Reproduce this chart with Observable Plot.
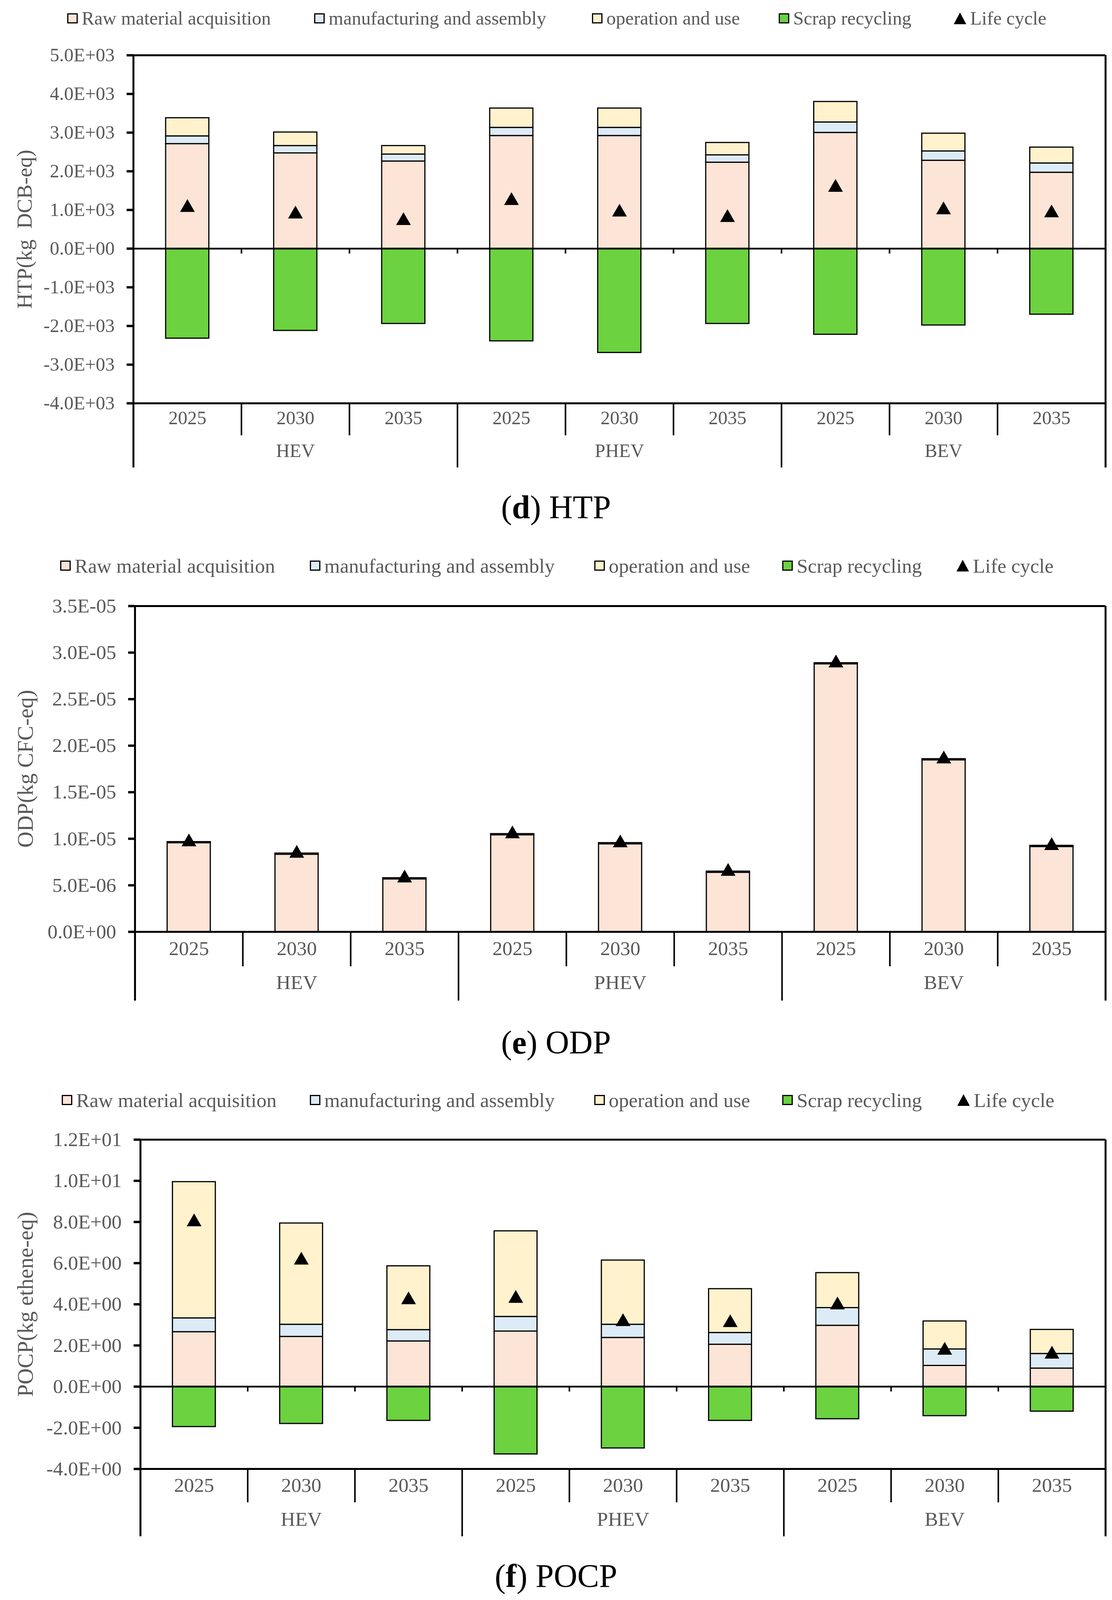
<!DOCTYPE html>
<html>
<head>
<meta charset="utf-8">
<script src="https://cdn.jsdelivr.net/npm/d3@7"></script>
<script src="https://cdn.jsdelivr.net/npm/@observablehq/plot@0.6"></script>
<style>
  html, body { margin: 0; padding: 0; background: #fff; }
  #page { position: relative; width: 2846px; height: 4096px; overflow: hidden; font-family: "Liberation Serif", "Times New Roman", serif; }
  .svgwrap { position: absolute; left: 0; }
  .item { position: absolute; display: flex; align-items: center; white-space: nowrap; color: #595959; }
  .sw { box-sizing: border-box; border: 3px solid #000; margin-right: 10px; }
  .ytitle { position: absolute; white-space: pre; color: #595959; transform: translate(-50%, -50%) rotate(-90deg); }
  .caption { position: absolute; left: 0; width: 2846px; text-align: center; color: #000; }
</style>
</head>
<body>
<div id="page"></div>
<script>
// categories
const groups = ["HEV", "PHEV", "BEV"];
const years = ["2025", "2030", "2035"];
const stages = ["Raw material acquisition", "manufacturing and assembly", "operation and use", "Scrap recycling"];
const stageColors = ["#FCE4D6", "#DDEBF7", "#FFF2CC", "#6CD23F"];
const lifeLabel = "Life cycle";

// (d) HTP, kg DCB-eq
const htpRaw   = [2710, 2470, 2260, 2920, 2920, 2230, 3000, 2280, 1970];
const htpManuf = [200, 190, 180, 210, 210, 190, 270, 240, 240];
const htpOper  = [470, 350, 220, 500, 500, 320, 530, 460, 410];
const htpScrap = [-2320, -2120, -1940, -2390, -2690, -1940, -2220, -1980, -1700];
const htpTicks = [-4000, -3000, -2000, -1000, 0, 1000, 2000, 3000, 4000, 5000];

// (e) ODP, kg CFC-eq
const odpRaw   = [9.55e-6, 8.32e-6, 5.67e-6, 1.041e-5, 9.44e-6, 6.38e-6, 2.877e-5, 1.846e-5, 9.15e-6];
const odpManuf = [8e-8, 8e-8, 8e-8, 8e-8, 8e-8, 8e-8, 8e-8, 8e-8, 8e-8];
const odpOper  = [4e-8, 4e-8, 4e-8, 4e-8, 4e-8, 4e-8, 4e-8, 4e-8, 4e-8];
const odpScrap = [-2e-8, -2e-8, -2e-8, -2e-8, -2e-8, -2e-8, -2e-8, -2e-8, -2e-8];
const odpTicks = [0, 5e-6, 1e-5, 1.5e-5, 2e-5, 2.5e-5, 3e-5, 3.5e-5];

// (f) POCP, kg ethene-eq
const pocpRaw   = [2.66, 2.43, 2.21, 2.69, 2.38, 2.05, 2.97, 1.02, 0.89];
const pocpManuf = [0.67, 0.59, 0.55, 0.71, 0.64, 0.57, 0.86, 0.80, 0.71];
const pocpOper  = [6.62, 4.92, 3.10, 4.16, 3.12, 2.13, 1.70, 1.36, 1.17];
const pocpScrap = [-1.95, -1.80, -1.65, -3.28, -2.99, -1.65, -1.57, -1.42, -1.20];
const pocpTicks = [-4, -2, 0, 2, 4, 6, 8, 10, 12];

// the browser only photographs 4096px of height, so the reference layout
// (4572px tall) is squeezed vertically; fonts are shrunk a little
const SY = 4096 / 4572;
const SF = 0.95;

const panels = [
  {raw: htpRaw, manuf: htpManuf, oper: htpOper, scrap: htpScrap, ticks: htpTicks,
   title: "HTP(kg  DCB-eq)", letter: "d", name: "HTP",
   fs: 51, titleFs: 58, legendY: 52, legendX: [172, 804, 1515, 1993, 2441],
   svgTop: 100, height: 1300, left: 341, marginTop: 57, marginBottom: 248,
   yearDy: 60, groupDy: 154, yearLen: 92, groupLen: 184, titleX: 62, captionY: 1451},
  {raw: odpRaw, manuf: odpManuf, oper: odpOper, scrap: odpScrap, ticks: odpTicks,
   title: "ODP(kg CFC-eq)", letter: "e", name: "ODP",
   fs: 54, titleFs: 60, legendY: 1616, legendX: [154, 793, 1521, 2002, 2448],
   svgTop: 1680, height: 1240, left: 345, marginTop: 51, marginBottom: 258,
   yearDy: 66, groupDy: 163, yearLen: 99, groupLen: 197, titleX: 64, captionY: 2980},
  {raw: pocpRaw, manuf: pocpManuf, oper: pocpOper, scrap: pocpScrap, ticks: pocpTicks,
   title: "POCP(kg ethene-eq)", letter: "f", name: "POCP",
   fs: 54, titleFs: 60, legendY: 3143, legendX: [158, 793, 1521, 2002, 2450],
   svgTop: 3200, height: 1240, left: 359, marginTop: 56, marginBottom: 243,
   yearDy: 65, groupDy: 162, yearLen: 96, groupLen: 193, titleX: 64, captionY: 4505}
];

function fmtE(v) {
  const [m, e] = v.toExponential(1).split("e");
  return m + "E" + e[0] + e.slice(1).padStart(2, "0");
}

const page = document.getElementById("page");
const W = 2846, rightEdge = 2829;
const sy = v => Math.round(v * SY);

function addLegend(p) {
  const fs = p.fs * SF;
  const lh = Math.round(fs * 1.12);
  const cy = sy(p.legendY);
  stages.forEach((s, k) => {
    const it = document.createElement("div");
    it.className = "item";
    it.style.left = p.legendX[k] + "px";
    it.style.top = (cy - lh / 2) + "px";
    it.style.fontSize = fs + "px";
    it.style.lineHeight = lh + "px";
    const sw = document.createElement("div");
    sw.className = "sw";
    sw.style.width = "27px";
    sw.style.height = "26px";
    sw.style.background = stageColors[k];
    it.appendChild(sw);
    it.appendChild(document.createTextNode(s));
    page.appendChild(it);
  });
  const it = document.createElement("div");
  it.className = "item";
  it.style.left = p.legendX[4] + "px";
  it.style.top = (cy - lh / 2) + "px";
  it.style.fontSize = fs + "px";
  it.style.lineHeight = lh + "px";
  it.innerHTML = '<svg width="32" height="30" style="margin-right:10px"><polygon points="16,0 32,30 0,30" fill="#000"/></svg>';
  it.appendChild(document.createTextNode(lifeLabel));
  page.appendChild(it);
}

function addPanel(p) {
  addLegend(p);
  const fs = p.fs * SF;
  const n = p.raw.length;
  const rows = [];
  const lc = [];
  for (let i = 0; i < n; i++) {
    const vals = [p.raw[i], p.manuf[i], p.oper[i], p.scrap[i]];
    vals.forEach((v, k) => rows.push({i, stage: stages[k], value: v}));
    lc.push({i, value: d3.sum(vals)});
  }
  const cats = d3.cross(groups, years).map(([g, y], i) => ({i, g, y}));
  const grp = groups.map((g, j) => ({g, mid: j * years.length + years.length / 2}));
  const yearBounds = d3.range(1, n).filter(b => b % years.length !== 0);
  const groupInner = d3.range(years.length, n, years.length);
  const ymin = p.ticks[0], ymax = p.ticks[p.ticks.length - 1];

  const svgTop = sy(p.svgTop);
  const height = sy(p.svgTop + p.height) - svgTop;
  const marginTop = sy(p.svgTop + p.marginTop) - svgTop;
  const frameBottom = sy(p.svgTop + p.height - p.marginBottom);
  const marginBottom = svgTop + height - frameBottom;

  const marks = [
    Plot.rectY(rows, Plot.stackY({
      x: "i", y: "value",
      x1: d => d.i + 0.3, x2: d => d.i + 0.7,
      fill: "stage", stroke: "black", strokeWidth: 3
    })),
    Plot.dot(lc, {x: d => d.i + 0.5, y: "value", symbol: "triangle", r: 14, fill: "black"}),
    // frame
    Plot.ruleY([ymin, ymax], {stroke: "black", strokeWidth: 5}),
    Plot.ruleY([0], {stroke: "black", strokeWidth: 4.5}),
    Plot.ruleX([0, n], {stroke: "black", strokeWidth: 5, insetBottom: -p.groupLen * SY}),
    // y ticks + labels
    Plot.ruleY(p.ticks, {x1: 0, x2: 0, insetLeft: -17, stroke: "black", strokeWidth: 6}),
    Plot.text(p.ticks, {y: d => d, frameAnchor: "left", dx: -48, textAnchor: "end",
      text: fmtE, fontSize: fs, fill: "#595959"}),
    // category axis
    Plot.ruleX(yearBounds, {y1: ymin, y2: ymin, insetBottom: -p.yearLen * SY, stroke: "black", strokeWidth: 4}),
    Plot.ruleX(groupInner, {y1: ymin, y2: ymin, insetBottom: -p.groupLen * SY, stroke: "black", strokeWidth: 4}),
    Plot.text(cats, {x: d => d.i + 0.5, frameAnchor: "bottom", dy: p.yearDy * SY, text: "y",
      fontSize: fs, fill: "#595959"}),
    Plot.text(grp, {x: "mid", frameAnchor: "bottom", dy: p.groupDy * SY, text: "g",
      fontSize: fs, fill: "#595959"})
  ];
  if (ymin < 0) {
    marks.push(Plot.ruleX(d3.range(1, n), {y1: 0, y2: 0, insetBottom: -13, stroke: "black", strokeWidth: 4}));
  }

  const chart = Plot.plot({
    width: W,
    height,
    marginLeft: p.left,
    marginRight: W - rightEdge,
    marginTop,
    marginBottom,
    x: {domain: [0, n], axis: null},
    y: {domain: [ymin, ymax], axis: null},
    color: {domain: stages, range: stageColors},
    style: {fontFamily: "Liberation Serif", background: "transparent", overflow: "visible", maxWidth: "none"},
    marks
  });
  const wrap = document.createElement("div");
  wrap.className = "svgwrap";
  wrap.style.top = svgTop + "px";
  wrap.appendChild(chart);
  page.appendChild(wrap);

  const t = document.createElement("div");
  t.className = "ytitle";
  t.style.left = p.titleX + "px";
  t.style.top = ((svgTop + marginTop) + frameBottom) / 2 + "px";
  t.style.fontSize = (p.titleFs * SF) + "px";
  t.textContent = p.title;
  page.appendChild(t);

  const cfs = 88 * SF;
  const c = document.createElement("div");
  c.className = "caption";
  c.style.fontSize = cfs + "px";
  c.style.lineHeight = cfs + "px";
  c.style.top = (sy(p.captionY) - cfs / 2) + "px";
  c.innerHTML = "(<b>" + p.letter + "</b>) " + p.name;
  page.appendChild(c);
}

panels.forEach(addPanel);
</script>
</body>
</html>
